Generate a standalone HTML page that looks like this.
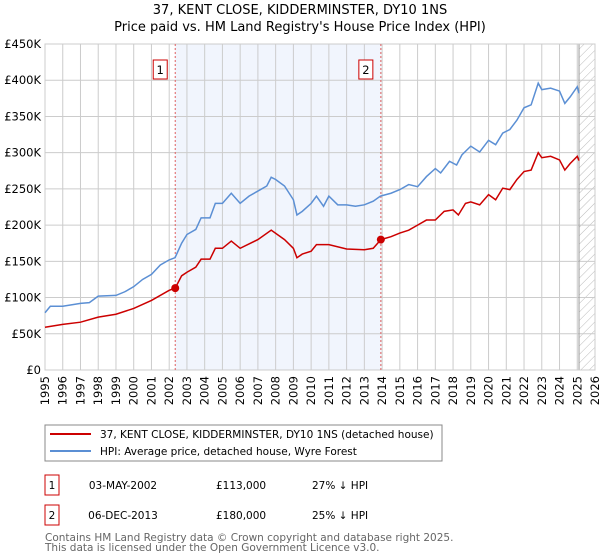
<!DOCTYPE html>
<html><head><meta charset="utf-8"><style>
body{margin:0;background:#fff;font-family:"Liberation Sans","DejaVu Sans",sans-serif}
svg{display:block}
</style></head><body>
<svg id="c" width="600" height="560" xmlns="http://www.w3.org/2000/svg" font-family="DejaVu Sans, Liberation Sans, sans-serif">
<defs><pattern id="hatch" width="6" height="6" patternUnits="userSpaceOnUse" patternTransform="rotate(45)"><line x1="0" y1="0" x2="0" y2="6" stroke="#bbb" stroke-width="1"/></pattern></defs>
<text x="300" y="14" text-anchor="middle" font-size="13">37, KENT CLOSE, KIDDERMINSTER, DY10 1NS</text>
<text x="300" y="31" text-anchor="middle" font-size="13">Price paid vs. HM Land Registry's House Price Index (HPI)</text>
<g id="plot"></g>
<g>
<rect x="45" y="425" width="397" height="36" fill="#fff" stroke="#888"/>
<line x1="50" y1="434" x2="91" y2="434" stroke="#cc0000" stroke-width="2"/>
<text x="100" y="438" font-size="10.5">37, KENT CLOSE, KIDDERMINSTER, DY10 1NS (detached house)</text>
<line x1="50" y1="451" x2="91" y2="451" stroke="#5b8fd4" stroke-width="2"/>
<text x="100" y="455" font-size="10.5">HPI: Average price, detached house, Wyre Forest</text>
</g>
<g font-size="10.5">
<rect x="45" y="475" width="14" height="20" fill="#fff" stroke="#cc0000"/><text x="52" y="489" text-anchor="middle">1</text>
<text x="123" y="489" text-anchor="middle">03-MAY-2002</text><text x="216" y="489">£113,000</text><text x="312" y="489">27% ↓ HPI</text>
<rect x="45" y="505" width="14" height="20" fill="#fff" stroke="#cc0000"/><text x="52" y="519" text-anchor="middle">2</text>
<text x="123" y="519" text-anchor="middle">06-DEC-2013</text><text x="216" y="519">£180,000</text><text x="312" y="519">25% ↓ HPI</text>
</g>
<text x="45" y="541" font-size="10.5" fill="#666">Contains HM Land Registry data © Crown copyright and database right 2025.</text>
<text x="45" y="551" font-size="10.5" fill="#666">This data is licensed under the Open Government Licence v3.0.</text>
</svg>
<script>
const hpiYears=[1995,1995.3,1996,1997,1997.5,1998,1999,1999.5,2000,2000.5,2001,2001.5,2002,2002.33,2002.7,2003,2003.5,2003.8,2004.3,2004.6,2005,2005.5,2006,2006.5,2007,2007.5,2007.75,2008,2008.5,2009,2009.2,2009.5,2010,2010.3,2010.7,2011,2011.5,2012,2012.5,2013,2013.5,2013.9,2014.5,2015,2015.5,2016,2016.5,2017,2017.3,2017.8,2018.2,2018.5,2019,2019.5,2020,2020.4,2020.8,2021.2,2021.6,2022,2022.4,2022.8,2023,2023.5,2024,2024.3,2024.6,2025,2025.1];
const hpiValues=[79,88,88,92,93,102,103,108,115,125,132,145,152,155,175,187,194,210,210,230,230,244,230,240,247,254,266,263,254,235,214,219,230,240,226,240,228,228,226,228,233,240,244,249,256,253,267,278,272,288,283,297,309,301,317,311,327,332,345,362,366,396,387,389,385,368,377,391,382];
const propYears=[1995,1996,1997,1998,1999,2000,2001,2002,2002.34,2002.7,2003,2003.5,2003.8,2004.3,2004.6,2005,2005.5,2006,2007,2007.75,2008.5,2009,2009.2,2009.5,2010,2010.3,2011,2012,2013,2013.5,2013.93,2014.5,2015,2015.5,2016,2016.5,2017,2017.5,2018,2018.3,2018.7,2019,2019.5,2020,2020.4,2020.8,2021.2,2021.6,2022,2022.4,2022.8,2023,2023.5,2024,2024.3,2024.6,2025,2025.1];
const propValues=[59,63,66,73,77,85,96,110,113,130,135,142,153,153,168,168,178,168,180,193,180,168,155,160,164,173,173,167,166,168,180,184,189,193,200,207,207,219,221,214,230,232,228,242,235,251,249,263,274,276,300,293,295,290,276,285,295,289];
const saleYears=[2002.34,2013.93];
const saleValues=[113,180];
const saleLabels=["1","2"];
const yTicks=[0,50,100,150,200,250,300,350,400,450];
const yTickLabels=["£0","£50K","£100K","£150K","£200K","£250K","£300K","£350K","£400K","£450K"];
const xTicks=[1995,1996,1997,1998,1999,2000,2001,2002,2003,2004,2005,2006,2007,2008,2009,2010,2011,2012,2013,2014,2015,2016,2017,2018,2019,2020,2021,2022,2023,2024,2025,2026];

const L=45,R=595,T=44,B=370;
const xs=y=>L+(y-1995)/(2026-1995)*(R-L);
const ys=v=>B-v/450*(B-T);
const NS="http://www.w3.org/2000/svg";
const g=document.getElementById('plot');
function mk(t,a,p){const e=document.createElementNS(NS,t);for(const k in a)e.setAttribute(k,a[k]);(p||g).appendChild(e);return e;}
let e;
e=mk('rect',{x:xs(saleYears[0]),y:T,width:xs(saleYears[1])-xs(saleYears[0]),height:B-T,fill:'#eef3fd',opacity:0.8});


e=mk('rect',{x:xs(2025.1),y:T,width:R-xs(2025.1),height:B-T,fill:'url(#hatch)'});


yTicks.forEach((v,i)=>{
 e=mk('line',{x1:L,x2:R,y1:ys(v),y2:ys(v),stroke:'#ccc'});
 
 
 e=mk('text',{x:L-4,y:ys(v)+4,'text-anchor':'end','font-size':'11.5'});e.textContent=yTickLabels[i];
 
 
});
xTicks.forEach(y=>{
 e=mk('line',{x1:xs(y),x2:xs(y),y1:T,y2:B,stroke:'#ccc'});
 
 
 e=mk('text',{x:0,y:0,'font-size':'11.5','text-anchor':'end',transform:`translate(${xs(y)+4},${B+6}) rotate(-90)`});e.textContent=y;
 
 
});
e=mk('line',{x1:xs(2025.1),x2:xs(2025.1),y1:T,y2:B,stroke:'#999','stroke-width':1});


e=mk('rect',{x:L,y:T,width:R-L,height:B-T,fill:'none',stroke:'#ccc'});


saleYears.forEach((y,i)=>{
 e=mk('line',{x1:xs(y),x2:xs(y),y1:T,y2:B,stroke:'#e06060','stroke-dasharray':'2,2'});
 
 
});
e=mk('polyline',{points:hpiYears.map((y,i)=>xs(y)+','+ys(hpiValues[i])).join(' '),fill:'none',stroke:'#5b8fd4','stroke-width':1.5});


e=mk('polyline',{points:propYears.map((y,i)=>xs(y)+','+ys(propValues[i])).join(' '),fill:'none',stroke:'#cc0000','stroke-width':1.5});


saleYears.forEach((y,i)=>{
 e=mk('circle',{cx:xs(y),cy:ys(saleValues[i]),r:4,fill:'#cc0000'});
 
 
 const bx=xs(y)-15;
 e=mk('rect',{x:bx-7,y:T+16,width:14,height:19,fill:'#fff',stroke:'#cc0000'});
 
 
 e=mk('text',{x:bx,y:T+30,'text-anchor':'middle','font-size':'11.5'});e.textContent=saleLabels[i];
 
 
});
</script>
</body></html>
